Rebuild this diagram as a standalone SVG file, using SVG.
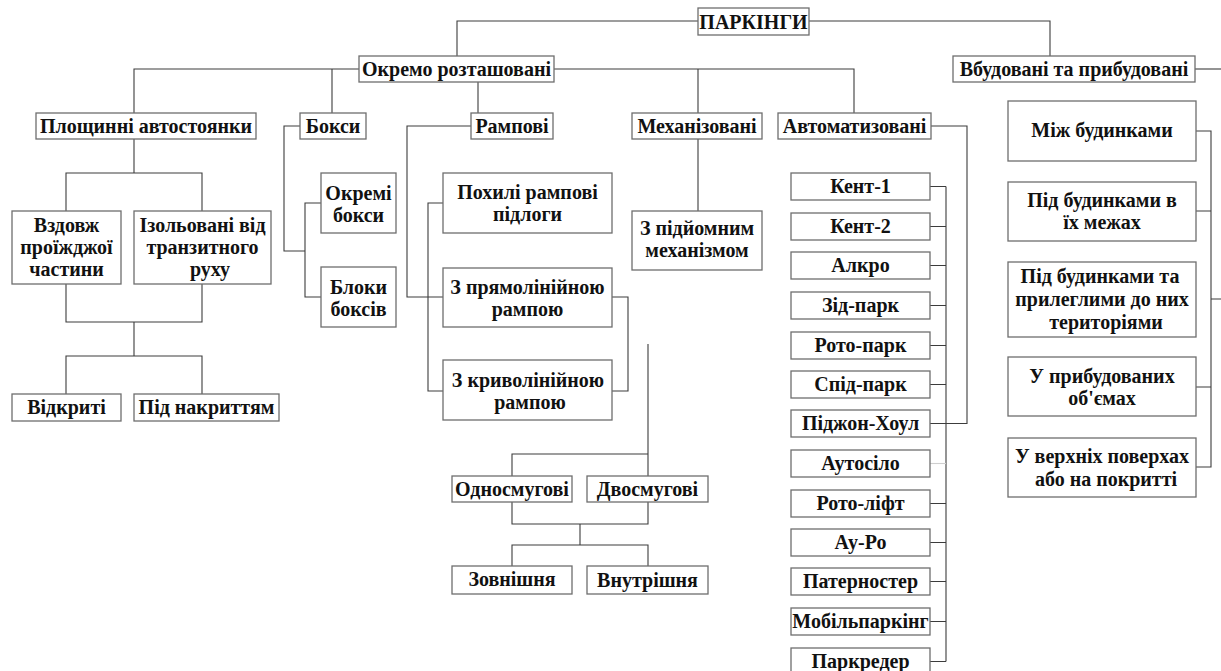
<svg xmlns="http://www.w3.org/2000/svg" width="1221" height="671" viewBox="0 0 1221 671">
<style>
rect.b{fill:#fff;stroke:#6e6e6e;stroke-width:1.3}
text{font-family:"Liberation Serif","DejaVu Serif",serif;font-weight:bold;font-size:20px;fill:#111;text-anchor:middle}
.c path{fill:none;stroke:#3c3c3c;stroke-width:1.1}
</style>
<rect width="1221" height="671" fill="#fff"/>
<g class="c" id="connectors">
<path d="M457,56V21H698"/>
<path d="M809,21H1050V56"/>
<path d="M134,113V69H359M332,69V113"/>
<path d="M554,69H854V113M698,69V113"/>
<path d="M478,82V113"/>
<path d="M1195,69H1221"/>
<path d="M134,139V173M66,211V173H202V211"/>
<path d="M66,284V322H202V284M134,322V356M66,394V356H202V394"/>
<path d="M300,126H284V251H305M321,203H305V297H321"/>
<path d="M471,126H407V297H443M443,203H428V391H443M612,297H628V391H612"/>
<path d="M698,139V211"/>
<path d="M648,344V476M512,476V454H648"/>
<path d="M512,502V524H648V502M580,524V545M512,566V545H648V566"/>
<path d="M931,126H967V423.5H930"/>
<path d="M946,186.5V661.5M930,186.5H946M930,226.5H946M930,265.5H946M930,305.5H946M930,345.5H946M930,384.5H946M930,503.5H946M930,542.5H946M930,581.5H946M930,621.5H946M930,661.5H946"/>
<path d="M930,463.5H946" style="stroke:#cfcfcf"/>
<path d="M1196,131H1211V467H1196M1196,211H1211M1196,387H1211M1211,299H1221"/>
</g>
<g id="n-parkingi"><rect class="b" x="698" y="8" width="111" height="27"/><text x="753.5" y="28.5">ПАРКІНГИ</text></g>
<g id="n-okremo"><rect class="b" x="359" y="56" width="195" height="26"/><text x="456.5" y="76">Окремо розташовані</text></g>
<g id="n-vbud"><rect class="b" x="953" y="56" width="242" height="26"/><text x="1074" y="76">Вбудовані та прибудовані</text></g>
<g id="n-plosh"><rect class="b" x="36" y="113" width="220" height="26"/><text x="146" y="133">Площинні автостоянки</text></g>
<g id="n-boksy"><rect class="b" x="300" y="113" width="66" height="26"/><text x="333" y="133">Бокси</text></g>
<g id="n-rampovi"><rect class="b" x="471" y="113" width="82" height="26"/><text x="512" y="133">Рампові</text></g>
<g id="n-mekh"><rect class="b" x="632" y="113" width="130" height="26"/><text x="697" y="133">Механізовані</text></g>
<g id="n-avto"><rect class="b" x="778" y="113" width="153" height="26"/><text x="854.5" y="133">Автоматизовані</text></g>
<g id="n-vzdovzh"><rect class="b" x="12" y="211" width="109" height="73"/><text x="66.5" y="232">Вздовж</text><text x="66.5" y="254">проїжджої</text><text x="66.5" y="276">частини</text></g>
<g id="n-izol"><rect class="b" x="134" y="211" width="137" height="73"/><text x="202.5" y="232">Ізольовані від</text><text x="202.5" y="254">транзитного</text><text x="210" y="276">руху</text></g>
<g id="n-vidkryti"><rect class="b" x="12" y="394" width="109" height="27"/><text x="66.5" y="414">Відкриті</text></g>
<g id="n-pidnakr"><rect class="b" x="134" y="394" width="145" height="27"/><text x="206.5" y="414">Під накриттям</text></g>
<g id="n-okremi"><rect class="b" x="321" y="173" width="75" height="60"/><text x="358.5" y="200">Окремі</text><text x="358.5" y="222">бокси</text></g>
<g id="n-bloky"><rect class="b" x="321" y="267" width="75" height="60"/><text x="358.5" y="294">Блоки</text><text x="358.5" y="316">боксів</text></g>
<g id="n-pokhyli"><rect class="b" x="443" y="173" width="169" height="60"/><text x="527.5" y="199">Похилі рампові</text><text x="527.5" y="221">підлоги</text></g>
<g id="n-pryamo"><rect class="b" x="443" y="268" width="169" height="59"/><text x="527.5" y="294">З прямолінійною</text><text x="527.5" y="316">рампою</text></g>
<g id="n-kryvo"><rect class="b" x="443" y="360" width="169" height="60"/><text x="528" y="387">З криволінійною</text><text x="530" y="409">рампою</text></g>
<g id="n-pidyom"><rect class="b" x="632" y="211" width="130" height="59"/><text x="697" y="235">З підйомним</text><text x="697" y="257">механізмом</text></g>
<g id="n-odno"><rect class="b" x="452" y="476" width="120" height="26"/><text x="512" y="496">Односмугові</text></g>
<g id="n-dvo"><rect class="b" x="587" y="476" width="121" height="26"/><text x="647.5" y="496">Двосмугові</text></g>
<g id="n-zovn"><rect class="b" x="452" y="566" width="120" height="28"/><text x="512" y="586">Зовнішня</text></g>
<g id="n-vnutr"><rect class="b" x="587" y="566" width="121" height="28"/><text x="647.5" y="587">Внутрішня</text></g>
<g id="n-kent1"><rect class="b" x="791" y="173" width="139" height="27"/><text x="860.5" y="193">Кент-1</text></g>
<g id="n-kent2"><rect class="b" x="791" y="213" width="139" height="27"/><text x="860.5" y="233">Кент-2</text></g>
<g id="n-alkro"><rect class="b" x="791" y="252" width="139" height="27"/><text x="860.5" y="272">Алкро</text></g>
<g id="n-zid"><rect class="b" x="791" y="292" width="139" height="27"/><text x="860.5" y="312">Зід-парк</text></g>
<g id="n-roto"><rect class="b" x="791" y="332" width="139" height="27"/><text x="860.5" y="352">Рото-парк</text></g>
<g id="n-spid"><rect class="b" x="791" y="371" width="139" height="27"/><text x="860.5" y="391">Спід-парк</text></g>
<g id="n-pidzhon"><rect class="b" x="791" y="410" width="139" height="27"/><text x="860.5" y="430">Піджон-Хоул</text></g>
<g id="n-autosilo"><rect class="b" x="791" y="450" width="139" height="27"/><text x="860.5" y="470">Аутосіло</text></g>
<g id="n-rotolift"><rect class="b" x="791" y="490" width="139" height="27"/><text x="860.5" y="510">Рото-ліфт</text></g>
<g id="n-auro"><rect class="b" x="791" y="529" width="139" height="27"/><text x="860.5" y="549">Ау-Ро</text></g>
<g id="n-pater"><rect class="b" x="791" y="568" width="139" height="27"/><text x="860.5" y="588">Патерностер</text></g>
<g id="n-mobil"><rect class="b" x="791" y="608" width="139" height="27"/><text x="860.5" y="628">Мобільпаркінг</text></g>
<g id="n-parkreder"><rect class="b" x="791" y="648" width="139" height="27"/><text x="860.5" y="668">Паркредер</text></g>
<g id="n-mizh"><rect class="b" x="1008" y="101" width="188" height="60"/><text x="1102" y="137">Між будинками</text></g>
<g id="n-pidbud"><rect class="b" x="1008" y="182" width="188" height="59"/><text x="1102" y="207">Під будинками в</text><text x="1102" y="229">їх межах</text></g>
<g id="n-prylegl"><rect class="b" x="1008" y="262" width="188" height="75"/><text x="1100" y="283">Під будинками та</text><text x="1102" y="306">прилеглими до них</text><text x="1106" y="329">територіями</text></g>
<g id="n-prybud"><rect class="b" x="1008" y="357" width="188" height="59"/><text x="1102" y="383">У прибудованих</text><text x="1102" y="405">об'ємах</text></g>
<g id="n-verkh"><rect class="b" x="1008" y="438" width="188" height="59"/><text x="1102" y="463">У верхніх поверхах</text><text x="1106" y="486">або на покритті</text></g>
</svg>
